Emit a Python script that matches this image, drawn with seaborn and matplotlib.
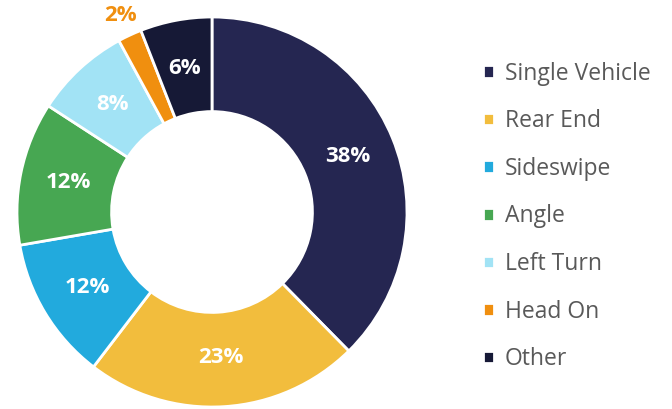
import matplotlib
matplotlib.use("Agg")
import matplotlib.pyplot as plt
import numpy as np
import seaborn as sns

sns.set_theme(style="white")
plt.rcParams['font.family'] = ['Open Sans', 'DejaVu Sans']

# data
categories = ['Single Vehicle', 'Rear End', 'Sideswipe', 'Angle', 'Left Turn', 'Head On', 'Other']
shares = [38, 23, 12, 12, 8, 2, 6]
colors = ['#252651', '#F2BD3D', '#22AADD', '#47A752', '#A2E3F5', '#F08F0F', '#161936']

fig = plt.figure(figsize=(6.72, 4.09), dpi=100)
ax = fig.add_axes([17 / 672, 2 / 409, 390 / 672, 390 / 409])

wedges, _ = ax.pie(shares, colors=colors, startangle=90, counterclock=False,
                   radius=1, wedgeprops=dict(width=0.485, edgecolor='white', linewidth=2))
ax.set_xlim(-1, 1)
ax.set_ylim(-1, 1)

# percent labels
total = sum(shares)
cum = 0
for share in shares:
    mid = 90 - (cum + share / 2) / total * 360
    cum += share
    a = np.deg2rad(mid)
    if share < 4:
        r, col = 1.11, '#F08F0F'
    else:
        r, col = 0.75, 'white'
    ax.text(r * np.cos(a), r * np.sin(a), f'{share}%', ha='center', va='center',
            color=col, fontsize=16, fontweight='bold')

fig.legend(wedges, categories, loc='upper left', bbox_to_anchor=(462 / 672, 1 - 41 / 409),
           frameon=False, fontsize=16.5, labelcolor='#595959', handlelength=0.48,
           handleheight=0.48, handletextpad=0.5, labelspacing=1.03)

fig.savefig('out.png', dpi=100)
